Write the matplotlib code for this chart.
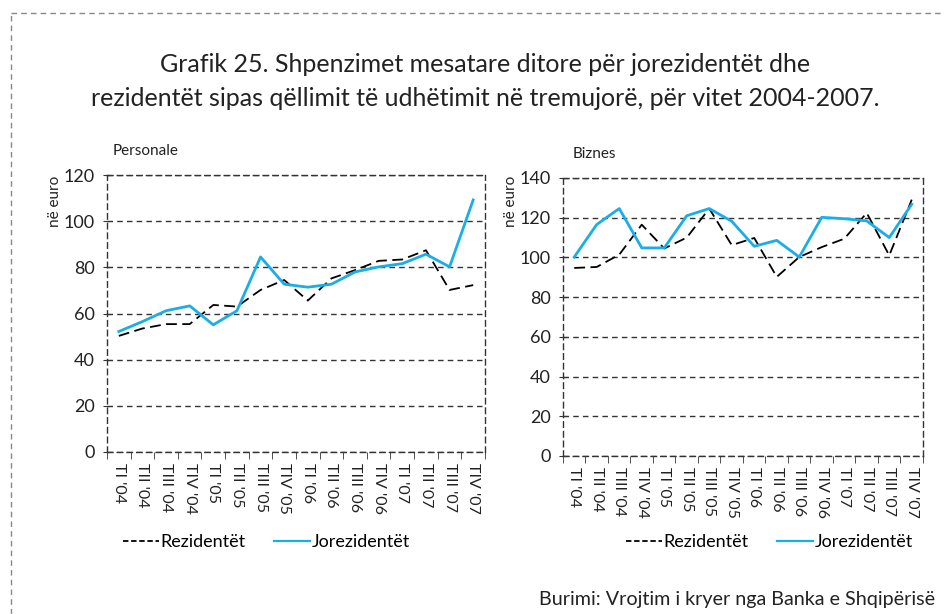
import matplotlib
matplotlib.use("Agg")
import matplotlib.pyplot as plt
from matplotlib.lines import Line2D
import numpy as np

plt.rcParams['font.family'] = ['Lato', 'DejaVu Sans']

# tremujorët
quarters = ["TI '04", "TII '04", "TIII '04", "TIV '04",
            "TI '05", "TII '05", "TIII '05", "TIV '05",
            "TI '06", "TII '06", "TIII '06", "TIV '06",
            "TI '07", "TII '07", "TIII '07", "TIV '07"]

# Personale
pers_rez = [50.3, 53.5, 55.4, 55.4, 63.7, 63.0, 70.2, 74.5,
            65.6, 75.2, 78.8, 82.8, 83.4, 87.4, 70.2, 72.3]
pers_jorez = [52.2, 56.5, 61.2, 63.3, 55.1, 61.2, 84.5, 72.7,
              71.4, 72.7, 78.0, 80.2, 81.6, 85.7, 80.2, 109.2]

# Biznes
biz_rez = [94.7, 95.2, 101.4, 116.5, 104.5, 110.0, 124.6, 106.2,
           109.8, 90.2, 100.2, 105.2, 109.4, 122.4, 101.0, 129.1]
biz_jorez = [100.2, 116.6, 124.6, 104.8, 104.8, 121.0, 124.6, 118.2,
             105.6, 108.6, 100.2, 120.2, 119.5, 118.4, 110.0, 126.8]

blue = '#1AAEE8'
dark = '#333333'
txt = '#222222'

fig = plt.figure(figsize=(9.45, 6.14), dpi=100)

# kuadrati me vija rreth grafikut
fig.add_artist(Line2D([11/945, 11/945], [0, 1 - 13/614], transform=fig.transFigure,
                      color='#888888', lw=1, linestyle=(0, (4, 3))))
fig.add_artist(Line2D([11/945, 1], [1 - 13/614, 1 - 13/614], transform=fig.transFigure,
                      color='#888888', lw=1, linestyle=(0, (4, 3))))

fig.text(0.513, 1 - 65/614, "Grafik 25. Shpenzimet mesatare ditore për jorezidentët dhe",
         ha='center', va='center', fontsize=18, color=txt)
fig.text(0.513, 1 - 98/614, "rezidentët sipas qëllimit të udhëtimit në tremujorë, për vitet 2004-2007.",
         ha='center', va='center', fontsize=18, color=txt)


def draw_panel(rect, rez, jorez, ymax, step, name, name_x, ylab_x, leg_x):
    ax = fig.add_axes(rect)
    x = np.arange(len(quarters))
    ax.plot(x, rez, color='black', lw=1.3, linestyle=(0, (6, 3)), zorder=3)
    ax.plot(x, jorez, color=blue, lw=2, zorder=4)
    ax.set_xlim(-0.5, len(quarters) - 0.5)
    ax.set_ylim(0, ymax)
    ax.set_yticks(np.arange(0, ymax + 1, step))
    ax.yaxis.grid(True, color=dark, lw=1, linestyle=(0, (4, 3)))
    ax.set_xticks(x)
    ax.set_xticklabels(quarters, rotation=270, fontsize=11.5, color=txt)
    ax.set_xticks(np.arange(-0.5, len(quarters)), minor=True)
    ax.tick_params(axis='x', which='major', length=0, pad=8)
    ax.tick_params(axis='x', which='minor', length=5, color=dark, direction='out')
    ax.tick_params(axis='y', length=6, direction='inout', color=dark,
                   labelsize=13, labelcolor=txt, pad=6)
    for s in ax.spines.values():
        s.set_linestyle((0, (4, 3)))
        s.set_color(dark)
        s.set_linewidth(1)
    ax.set_axisbelow(True)
    fig.text(name_x, rect[1] + rect[3] + 0.032, name, fontsize=11, color=txt)
    fig.text(ylab_x, 1 - 201/614, "në euro", rotation=90, ha='center', va='center',
             fontsize=11, color=txt)
    handles = [Line2D([], [], color='black', lw=1.3, linestyle=(0, (3, 1.5))),
               Line2D([], [], color=blue, lw=1.6)]
    fig.legend(handles, ['Rezidentët', 'Jorezidentët'], loc='center left',
               bbox_to_anchor=(leg_x, 1 - 542/614), ncol=2, frameon=False,
               fontsize=13, handlelength=2.0, handletextpad=0.05, columnspacing=1.6)
    return ax


draw_panel([107/945, 1 - 452/614, 378/945, 277/614], pers_rez, pers_jorez, 120, 20,
           "Personale", 113/945, 55/945, 107/945)
draw_panel([563/945, 1 - 456/614, 360/945, 278/614], biz_rez, biz_jorez, 140, 20,
           "Biznes", 573/945, 511/945, 610/945)

fig.text(935/945, 1 - 600/614, "Burimi: Vrojtim i kryer nga Banka e Shqipërisë",
         ha='right', va='center', fontsize=14.2, color=txt)

fig.savefig("out.png", dpi=100)
